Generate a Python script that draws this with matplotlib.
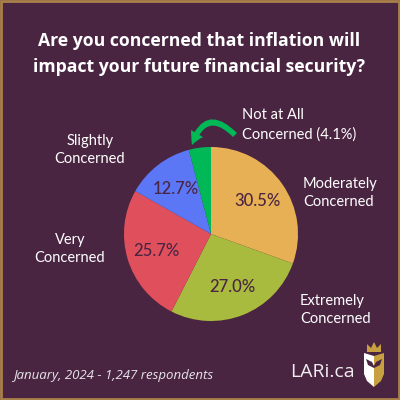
import matplotlib.pyplot as plt
from matplotlib.patches import FancyArrowPatch, Polygon, Rectangle

# data
categorias = ['Moderately\nConcerned', 'Extremely\nConcerned', 'Very\nConcerned',
              'Slightly\nConcerned', 'Not at All\nConcerned (4.1%)']
valores = [30.5, 27.0, 25.7, 12.7, 4.1]
cores = ['#E8B055', '#A8BB3E', '#E0505C', '#5B77F6', '#00B856']

titulo = 'Are you concerned that inflation will\nimpact your future financial security?'
rodape = 'January, 2024 - 1,247 respondents'
marca = 'LARi.ca'

fundo = '#4A2542'
texto_escuro = '#4A2542'

fig = plt.figure(figsize=(4, 4), dpi=100)
fig.patch.set_facecolor(fundo)

# camada de fundo em pixels (0..400, y para baixo)
bg = fig.add_axes([0, 0, 1, 1])
bg.set_xlim(0, 400)
bg.set_ylim(400, 0)
bg.axis('off')
bg.add_patch(Rectangle((1, 1), 398, 398, fill=False, edgecolor='#A98048', linewidth=2))

bg.text(199, 54, titulo, ha='center', va='center', color='white', fontsize=12.7,
        fontweight='bold', family='Open Sans', linespacing=1.5)

bg.text(13, 375, rodape, ha='left', va='center', color='#E8E4E8', fontsize=9.5,
        style='italic', family='Open Sans')
bg.text(290, 372, marca, ha='left', va='center', color='#F0ECF0', fontsize=14,
        family='Open Sans')

# escudo simples do logo
bg.add_patch(Polygon([[364, 353], [374, 356], [374, 387], [367, 381], [364, 374]],
                     closed=True, facecolor='white', edgecolor='none'))
bg.add_patch(Polygon([[374, 356], [384, 353], [384, 374], [381, 381], [374, 387]],
                     closed=True, facecolor='#C9A040', edgecolor='none'))
bg.add_patch(Polygon([[367, 352], [367, 344], [371, 348], [374, 342], [377, 348],
                      [381, 344], [381, 352]], closed=True, facecolor='#C9A040',
                     edgecolor='none'))
bg.add_patch(Polygon([[366, 359], [372, 362], [374, 366], [376, 362], [382, 359],
                      [380, 365], [374, 368], [368, 365]], closed=True,
                     facecolor=fundo, edgecolor='none'))

# rotulos das categorias
bg.text(303, 193, categorias[0], ha='left', va='center', color='white',
        fontsize=10.5, family='Lato', linespacing=1.45)
bg.text(300, 310, categorias[1], ha='left', va='center', color='white',
        fontsize=10.5, family='Lato', linespacing=1.45)
bg.text(70, 249, categorias[2], ha='center', va='center', color='white',
        fontsize=10.5, family='Lato', linespacing=1.45)
bg.text(90, 150, categorias[3], ha='center', va='center', color='white',
        fontsize=10.5, family='Lato', linespacing=1.45)
bg.text(242, 125, categorias[4], ha='left', va='center', color='white',
        fontsize=10.5, family='Lato', linespacing=1.45)

seta = FancyArrowPatch((235, 135), (192, 145), connectionstyle='arc3,rad=0.8',
                       arrowstyle='simple,head_width=10,head_length=9,tail_width=4',
                       color='#00B856', linewidth=0, shrinkA=0, shrinkB=0)
bg.add_patch(seta)

# pizza
ax = fig.add_axes([124 / 400, (400 - 234 - 87) / 400, 174 / 400, 174 / 400])
ax.set_facecolor('none')


def rotulo(p):
    return '' if p < 5 else f'{p:.1f}%'


wedges, _, autotexts = ax.pie(valores, colors=cores, startangle=90, counterclock=False,
                              autopct=rotulo, pctdistance=0.66,
                              wedgeprops={'linewidth': 0})
for t in autotexts:
    t.set_color(texto_escuro)
    t.set_fontsize(12)
    t.set_family('Lato')
    t.set_fontweight('medium')
ax.set_xlim(-1, 1)
ax.set_ylim(-1, 1)
ax.set_aspect('equal')

plt.savefig('out.png', dpi=100, facecolor=fig.get_facecolor())
